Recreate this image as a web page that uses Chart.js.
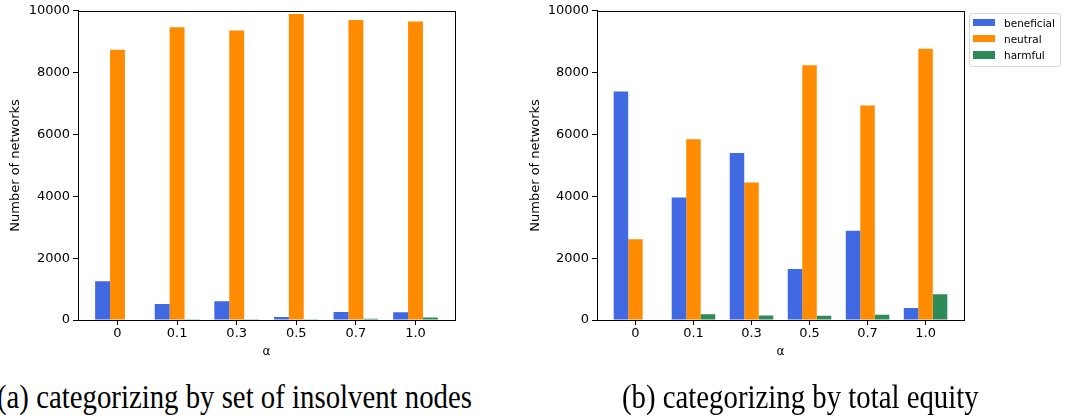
<!DOCTYPE html>
<html><head><meta charset="utf-8">
<script src="https://cdn.jsdelivr.net/npm/chart.js@4"></script>
<style>
html,body{margin:0;padding:0;background:#fff;width:1075px;height:419px;overflow:hidden;position:relative;}
canvas{position:absolute;top:0;}
#c1{left:0;}
#c2{left:520px;}
.cap{position:absolute;font-family:"Liberation Serif","Times New Roman",serif;font-size:28.8px;white-space:nowrap;color:#000;line-height:1;transform:scaleY(1.15);transform-origin:left top;}
#capA{left:-3px;top:380px;}
#capB{left:622px;top:380px;}
#legend{position:absolute;left:969px;top:13px;width:90px;height:51px;border:1px solid #d6d6d6;border-radius:3px;background:rgba(255,255,255,0.8);box-sizing:content-box;padding-top:0.5px;}
.row{height:16.3px;line-height:16.3px;white-space:nowrap;font-family:"DejaVu Sans",sans-serif;font-size:10.5px;color:#000;}
.patch{display:inline-block;width:21.5px;height:7.3px;margin-left:3px;margin-right:9.5px;vertical-align:middle;position:relative;top:-1px;}
</style></head>
<body>
<canvas id="c1" width="540" height="375"></canvas>
<canvas id="c2" width="555" height="375"></canvas>
<div id="legend"></div>
<div class="cap" id="capA">(a) categorizing by set of insolvent nodes</div>
<div class="cap" id="capB">(b) categorizing by total equity</div>
<script>
// ---- data ----
const categories = ['0', '0.1', '0.3', '0.5', '0.7', '1.0'];
const seriesNames = ['beneficial', 'neutral', 'harmful'];
const seriesColors = ['#4169E1', '#FF8C00', '#2E8B57'];
// (a) categorizing by set of insolvent nodes
const aBeneficial = [1250, 520, 610, 100, 260, 250];
const aNeutral    = [8740, 9465, 9360, 9895, 9700, 9650];
const aHarmful    = [0, 5, 10, 10, 40, 80];
// (b) categorizing by total equity
const bBeneficial = [7390, 3960, 5405, 1650, 2890, 385];
const bNeutral    = [2610, 5845, 4445, 8235, 6940, 8770];
const bHarmful    = [0, 190, 148, 140, 170, 835];
const yTicks = [0, 2000, 4000, 6000, 8000, 10000];
const yTitle = 'Number of networks';
const xTitle = 'α';

Chart.defaults.color = '#000';
Chart.defaults.font.family = '"DejaVu Sans", sans-serif';

function frame() {
  return {
    id: 'frame',
    afterDraw(chart) {
      const a = chart.chartArea, ctx = chart.ctx;
      ctx.save();
      ctx.strokeStyle = '#000';
      ctx.lineWidth = 1;
      ctx.strokeRect(Math.round(a.left) + 0.5, Math.round(a.top) + 0.5,
                     Math.round(a.right - a.left), Math.round(a.bottom - a.top));
      ctx.restore();
    }
  };
}

function makeChart(id, vals, yWidth, padRight, withLegend) {
  const datasets = vals.map((v, k) => ({
    label: seriesNames[k],
    data: v.map((y, i) => ({x: i, y: y})),
    backgroundColor: seriesColors[k],
    borderWidth: 0,
    categoryPercentage: 0.75,
    barPercentage: 1.0
  }));
  const plugins = [frame()];
  if (withLegend) {
    plugins.push({
      id: 'htmlLegend',
      afterUpdate(chart) {
        const box = document.getElementById('legend');
        box.innerHTML = '';
        chart.data.datasets.forEach(ds => {
          const row = document.createElement('div');
          row.className = 'row';
          const p = document.createElement('span');
          p.className = 'patch';
          p.style.background = ds.backgroundColor;
          row.appendChild(p);
          row.appendChild(document.createTextNode(ds.label));
          box.appendChild(row);
        });
      }
    });
  }
  return new Chart(document.getElementById(id), {
    type: 'bar',
    data: {datasets},
    plugins,
    options: {
      responsive: false,
      animation: false,
      events: [],
      layout: {padding: {top: 8, right: padRight, left: 0, bottom: 0}},
      plugins: {legend: {display: false}, tooltip: {enabled: false}},
      scales: {
        x: {
          type: 'linear',
          min: -0.6625, max: 5.6625,
          offset: false,
          afterBuildTicks(s) { s.ticks = categories.map((_, i) => ({value: i})); },
          afterFit(s) { s.height = 55; },
          ticks: {callback: v => categories[v], font: {size: 13}, padding: 1, maxRotation: 0, autoSkip: false},
          grid: {display: true, offset: false, drawOnChartArea: false, drawTicks: true, tickLength: 5, tickColor: '#000'},
          border: {display: true, color: '#000', width: 1},
          title: {display: true, text: xTitle, font: {size: 12}, padding: {top: 2, bottom: 16}}
        },
        y: {
          min: 0, max: 10000,
          afterBuildTicks(s) { s.ticks = yTicks.map(v => ({value: v})); },
          afterFit(s) { s.width = yWidth; },
          ticks: {callback: v => String(v), font: {size: 13}, padding: 3},
          grid: {display: true, drawOnChartArea: false, drawTicks: true, tickLength: 5, tickColor: '#000'},
          border: {display: true, color: '#000', width: 1},
          title: {display: true, text: yTitle, font: {size: 13}, padding: {top: 8, bottom: 2}}
        }
      }
    }
  });
}

makeChart('c1', [aBeneficial, aNeutral, aHarmful], 78, 85, false);
makeChart('c2', [bBeneficial, bNeutral, bHarmful], 77, 111, true);
</script>
</body></html>
